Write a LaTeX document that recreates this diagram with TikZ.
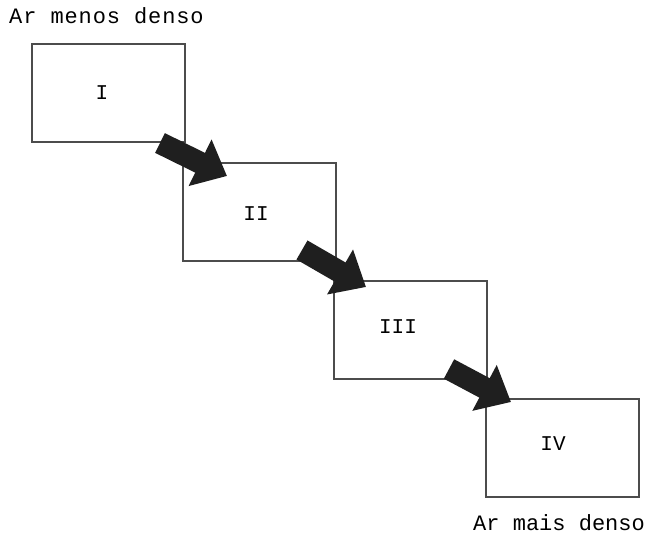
\documentclass[tikz,border=0pt]{standalone}
\usepackage{fontspec}
\setmonofont{Liberation Mono}
\usetikzlibrary{arrows.meta}
\begin{document}
\begin{tikzpicture}[x=1pt,y=-1pt,
  boxst/.style={draw=black!70,line width=1.8pt,fill=none,minimum width=153pt,minimum height=98pt,inner sep=0pt,anchor=north west},
  labtop/.style={font=\fontsize{22}{24}\selectfont\ttfamily\addfontfeature{LetterSpace=4},inner sep=0pt},
  labbot/.style={font=\fontsize{22}{24}\selectfont\ttfamily,inner sep=0pt},
  num/.style={font=\fontsize{21}{24}\selectfont\ttfamily,inner sep=0pt},
  bigarrow/.style={draw=black!88,line width=22pt,-{Triangle[length=30pt,width=50pt]},black!88}]
\useasboundingbox (0,0) rectangle (659,535);
\node[boxst] (b1) at (31,43) {};
\node[boxst] (b2) at (182,162) {};
\node[boxst] (b3) at (333,280) {};
\node[boxst] (b4) at (485,398) {};
\node[num] (n1) at (102,93) {I};
\node[num] (n2) at (256,214) {II};
\node[num] (n3) at (398,327) {III};
\node[num] (n4) at (553,444) {IV};
\node[labtop,anchor=base west] (t1) at (9,24) {Ar menos denso};
\node[labbot,anchor=base west] (t2) at (473,530) {Ar mais denso};
\coordinate (a1s) at (160,143);
\coordinate (a1e) at (227,176);
\coordinate (a2s) at (302,250);
\coordinate (a2e) at (366,287);
\coordinate (a3s) at (449,369);
\coordinate (a3e) at (511,402);
\draw[bigarrow] (a1s) -- (a1e);
\draw[bigarrow] (a2s) -- (a2e);
\draw[bigarrow] (a3s) -- (a3e);
\end{tikzpicture}
\end{document}
